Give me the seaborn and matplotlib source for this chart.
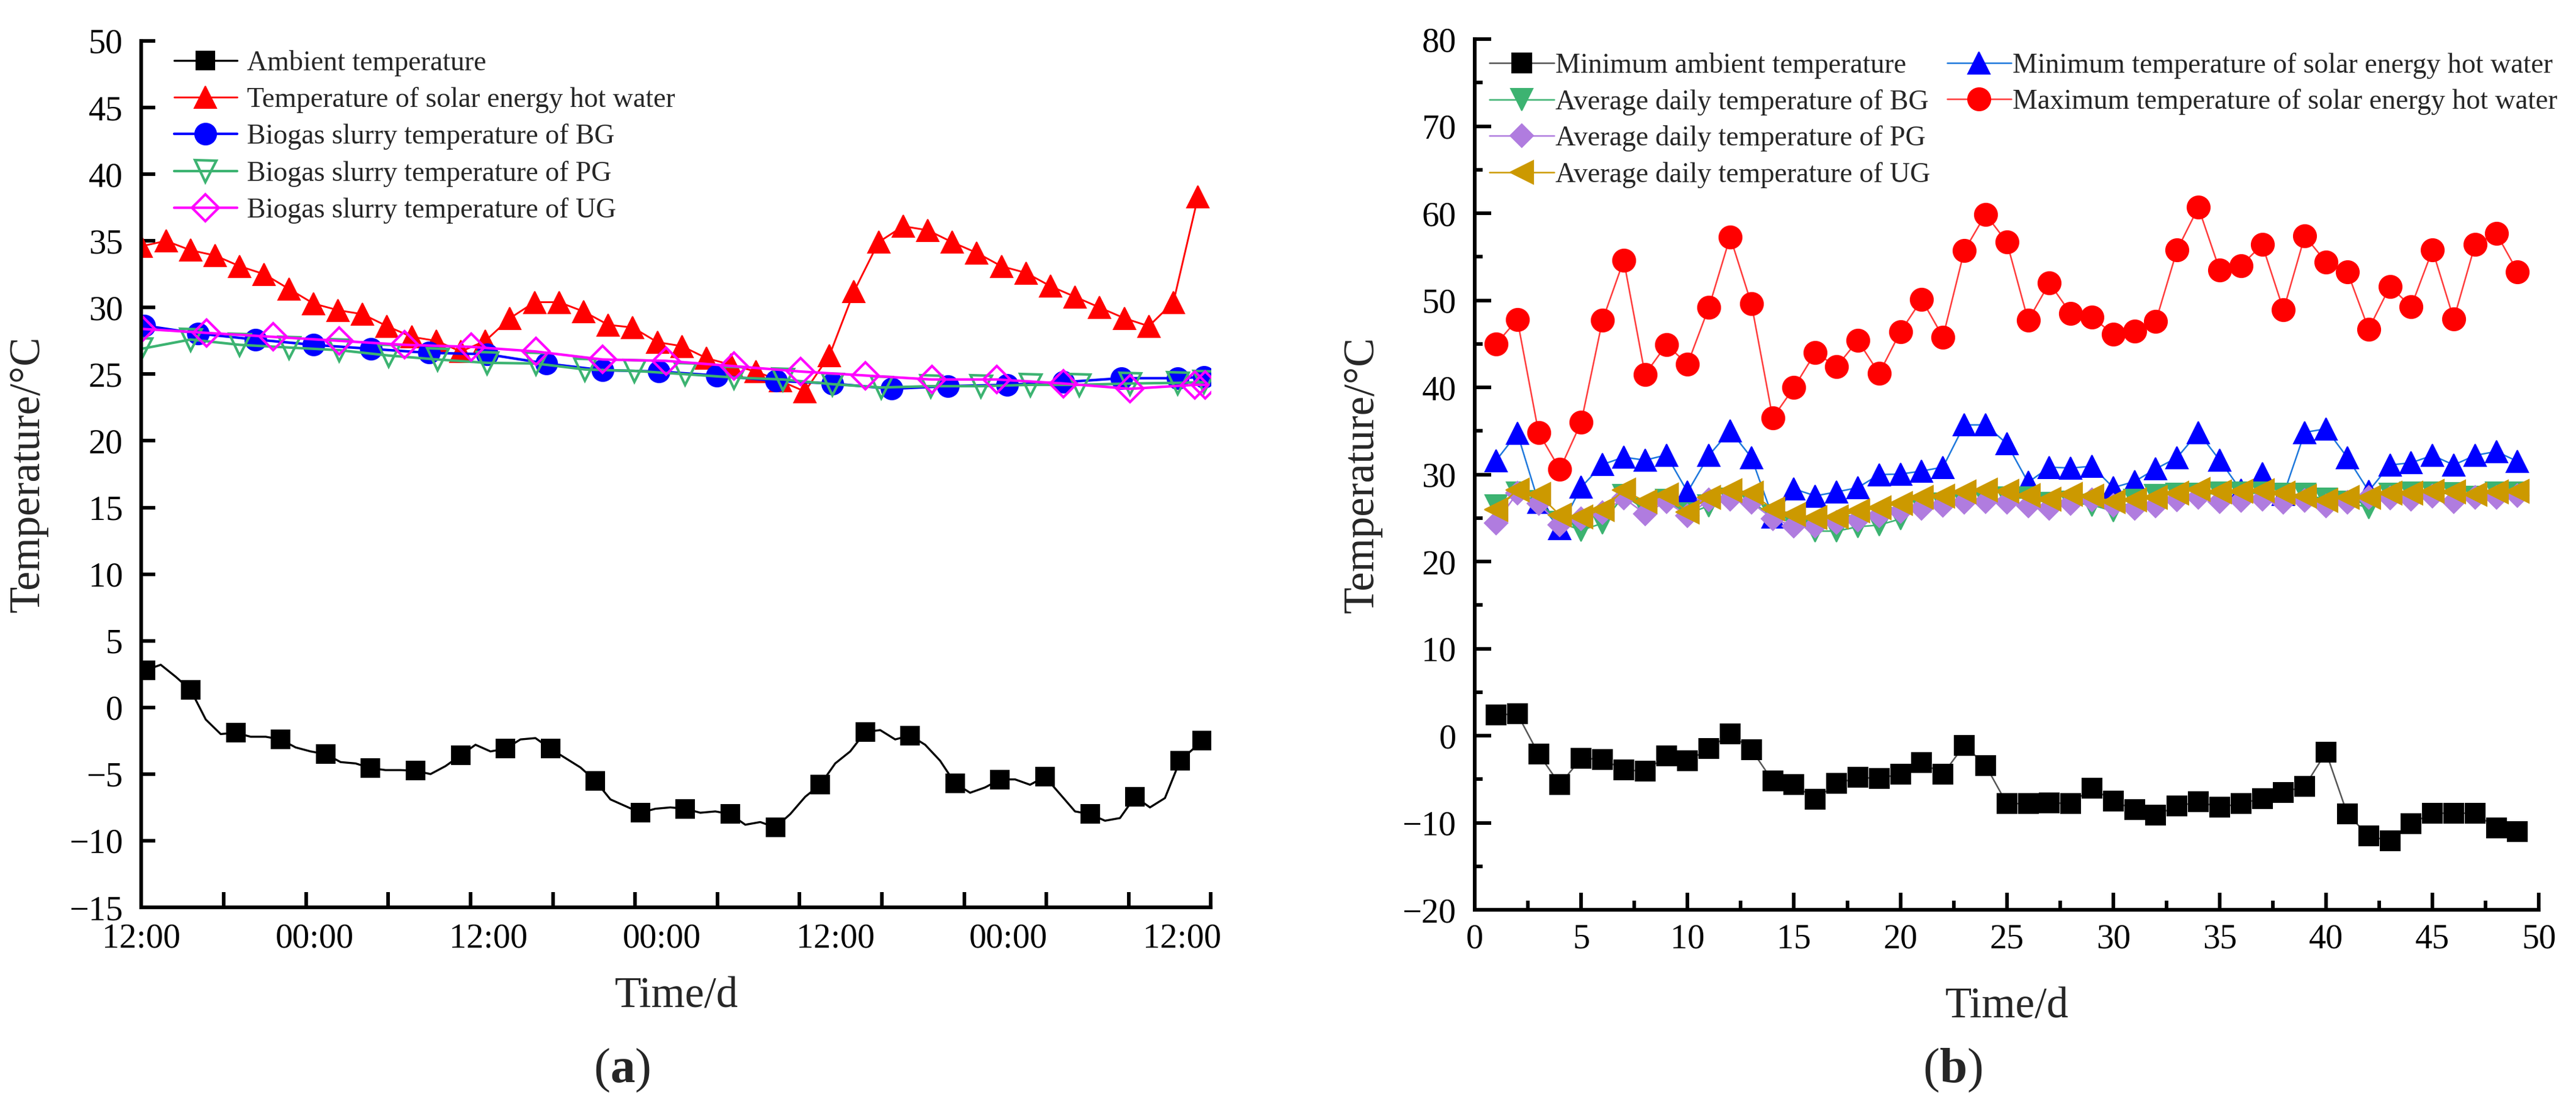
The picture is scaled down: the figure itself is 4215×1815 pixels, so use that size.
import numpy as np
import matplotlib
matplotlib.use('Agg')
import matplotlib.pyplot as plt
from matplotlib.lines import Line2D
from matplotlib.ticker import MultipleLocator, FixedLocator
import seaborn as sns

# ---------------- panel (a): hours counted from 12:00 of the first day
amb_hours = np.append(0.3 + np.arange(70) * 1.037, 73.4)
amb_temp = [2.8, 3.2, 2.3, 1.3, -0.9, -2.0, -1.9, -2.2, -2.2, -2.4,
            -3.0, -3.3, -3.5, -4.1, -4.2, -4.55, -4.7, -4.7, -4.75, -5.0,
            -4.4, -3.6, -2.8, -3.3, -3.1, -2.4, -2.3, -3.1, -3.8, -4.5,
            -5.5, -6.9, -7.4, -7.9, -7.6, -7.5, -7.6, -7.9, -7.8, -8.0,
            -8.8, -8.6, -9.0, -8.0, -6.7, -5.8, -4.2, -3.3, -1.85, -1.7,
            -2.4, -2.1, -2.8, -4.0, -5.7, -6.4, -6.0, -5.4, -5.4, -5.8,
            -5.2, -6.5, -7.8, -8.0, -8.5, -8.3, -6.7, -7.5, -6.8, -4.0,
            -2.5]

solar_hours = np.arange(44) * 1.7
solar_temp = [34.6, 35.0, 34.3, 33.9, 33.1, 32.5, 31.4, 30.3, 29.8, 29.5,
              28.6, 27.8, 27.5, 26.7, 27.5, 29.2, 30.4, 30.4, 29.7, 28.7,
              28.5, 27.4, 27.1, 26.2, 25.7, 25.2, 24.5, 23.7, 26.4, 31.2,
              34.9, 36.1, 35.8, 34.9, 34.1, 33.1, 32.6, 31.6, 30.8, 30.0,
              29.2, 28.6, 30.4, 38.3]

bg_hours = [0.2, 3.9, 7.9, 11.9, 15.9, 19.9, 23.9, 28.0, 31.9, 35.8,
            39.8, 43.9, 47.8, 51.9, 55.8, 59.9, 63.8, 67.8, 71.7, 73.5]
bg_temp = [28.65, 28.05, 27.6, 27.2, 26.9, 26.6, 26.5, 25.8, 25.3, 25.2,
           24.9, 24.5, 24.3, 23.9, 24.1, 24.2, 24.4, 24.7, 24.7, 24.8]

pg_hours = [0.0, 3.4, 6.8, 10.2, 13.7, 17.1, 20.5, 23.9, 27.3, 30.7, 34.1,
            37.6, 41.0, 44.4, 47.8, 51.2, 54.6, 58.1, 61.5, 64.9, 68.4, 71.7, 73.5]
pg_temp = [26.9, 27.6, 27.2, 27.0, 26.8, 26.4, 26.1, 25.85, 25.8, 25.35, 25.25,
           25.0, 24.75, 24.6, 24.25, 24.0, 24.1, 24.1, 24.2, 24.2, 24.3, 24.35, 24.4]

ug_hours = [0.0, 4.5, 9.1, 13.7, 18.2, 22.8, 27.3, 31.9, 36.3,
            41.0, 45.6, 50.1, 54.7, 59.2, 63.8, 68.4, 72.9, 73.6]
ug_temp = [28.4, 28.1, 27.8, 27.5, 27.2, 27.05, 26.7, 26.1, 26.0,
           25.6, 25.2, 24.9, 24.6, 24.6, 24.3, 23.9, 24.2, 24.2]

clock_pos = [0, 12, 24, 36, 48, 60, 72]
clock_labels = ['12:00', '00:00', '12:00', '00:00', '12:00', '00:00', '12:00']

# ---------------- panel (b): daily values
days = np.arange(1, 50)
min_ambient = [2.4, 2.5, -2.1, -5.6, -2.6, -2.7, -3.9, -4.1, -2.3, -2.9,
               -1.5, 0.2, -1.6, -5.2, -5.6, -7.3, -5.5, -4.8, -4.9, -4.4,
               -3.1, -4.4, -1.1, -3.4, -7.8, -7.8, -7.7, -7.8, -6.0, -7.5,
               -8.5, -9.1, -8.1, -7.6, -8.2, -7.8, -7.2, -6.5, -5.8, -1.9,
               -9.0, -11.5, -12.1, -10.1, -8.9, -8.9, -8.9, -10.6, -11.0]
avg_bg = [26.4, 27.85, 26.9, 24.5, 23.6, 24.4, 27.6, 26.0, 27.05, 25.5,
          26.4, 27.2, 26.8, 25.3, 24.4, 23.5, 23.5, 24.0, 24.2, 24.9,
          26.3, 26.6, 26.8, 27.0, 27.3, 27.3, 26.7, 26.8, 26.5, 25.8,
          27.0, 27.6, 27.75, 27.7, 27.85, 27.85, 27.85, 27.7, 27.7, 27.15,
          26.8, 26.2, 27.7, 27.85, 27.85, 27.8, 27.4, 27.85, 27.85]
avg_pg = [24.45, 27.9, 26.65, 24.2, 24.9, 25.6, 27.3, 25.5, 26.9, 25.25,
          27.1, 27.2, 26.8, 24.9, 24.1, 24.1, 24.5, 24.8, 25.3, 25.75,
          26.1, 26.5, 26.8, 26.9, 26.85, 26.4, 26.1, 26.65, 27.1, 26.5,
          26.1, 26.4, 27.1, 27.35, 26.9, 27.0, 27.2, 26.8, 27.0, 26.4,
          26.8, 27.35, 27.3, 27.2, 27.5, 26.9, 27.4, 27.4, 27.6]
avg_ug = [25.95, 28.25, 27.7, 25.35, 25.1, 26.0, 28.2, 26.9, 27.65, 25.7,
          27.4, 28.15, 27.85, 26.05, 25.4, 25.05, 25.1, 25.8, 26.2, 26.7,
          27.4, 27.5, 28.0, 28.2, 28.1, 27.6, 27.2, 27.7, 27.5, 26.9,
          27.1, 27.4, 27.9, 28.3, 28.0, 28.1, 28.15, 27.9, 27.5, 27.0,
          27.4, 27.4, 27.9, 27.9, 28.1, 28.0, 27.7, 28.0, 28.1]
min_solar = [31.6, 34.75, 26.8, 23.8, 28.55, 31.15, 32.0, 31.65, 32.25, 28.0,
             32.2, 35.05, 31.95, 25.1, 28.35, 27.55, 28.0, 28.5, 30.0, 30.05,
             30.4, 30.85, 35.7, 35.7, 33.55, 29.1, 30.85, 30.75, 30.95, 28.5,
             29.2, 30.65, 31.95, 34.85, 31.65, 28.2, 30.15, 27.7, 34.85, 35.25,
             31.95, 28.1, 31.1, 31.35, 32.2, 31.1, 32.2, 32.65, 31.5]
max_solar = [45.0, 47.8, 34.8, 30.6, 36.0, 47.7, 54.6, 41.5, 44.9, 42.7,
             49.2, 57.3, 49.6, 36.5, 40.0, 44.0, 42.4, 45.4, 41.6, 46.4,
             50.1, 45.8, 55.7, 59.9, 56.7, 47.7, 52.0, 48.5, 48.1, 46.1,
             46.5, 47.6, 55.8, 60.7, 53.5, 54.0, 56.4, 48.9, 57.4, 54.4,
             53.3, 46.7, 51.6, 49.3, 55.8, 47.85, 56.4, 57.7, 53.3]

# ---------------- style
sns.set_theme(style='ticks')
plt.rcParams['font.family'] = ['Liberation Serif', 'DejaVu Serif']
plt.rcParams['mathtext.fontset'] = 'custom'
plt.rcParams['mathtext.rm'] = 'Liberation Serif'
plt.rcParams['mathtext.bf'] = 'Liberation Serif:bold'
plt.rcParams['axes.unicode_minus'] = True

fig = plt.figure(figsize=(14.05, 6.05), dpi=300)
ax_a = fig.add_axes([0.0549, 0.1818, 0.4152, 0.7813])
ax_b = fig.add_axes([0.5725, 0.1796, 0.4131, 0.7850])


def style_axes(ax):
    for side in ('top', 'right'):
        ax.spines[side].set_visible(False)
    for side in ('left', 'bottom'):
        ax.spines[side].set_linewidth(1.45)
        ax.spines[side].set_color('black')
    ax.tick_params(which='both', direction='in', color='black', width=1.4,
                   labelsize=13.5, labelcolor='black')
    ax.grid(False)
    ax.set_facecolor('white')


# ---------------- panel (a)
sns.lineplot(x=amb_hours, y=amb_temp, ax=ax_a, color='black', lw=0.8,
             marker='s', markersize=7.4, markerfacecolor='black',
             markeredgecolor='black', markeredgewidth=0.5,
             markevery=list(range(0, 70, 3)) + [70], label='Ambient temperature')
sns.lineplot(x=solar_hours, y=solar_temp, ax=ax_a, color='#FF0000', lw=0.7,
             marker='^', markersize=8.6, markerfacecolor='#FF0000',
             markeredgecolor='#FF0000', markeredgewidth=0.5,
             label='Temperature of solar energy hot water')
sns.lineplot(x=bg_hours, y=bg_temp, ax=ax_a, color='#0000FF', lw=1.0,
             marker='o', markersize=8.4, markerfacecolor='#0000FF',
             markeredgecolor='#0000FF', markeredgewidth=0.5,
             label='Biogas slurry temperature of BG')
sns.lineplot(x=pg_hours, y=pg_temp, ax=ax_a, color='#3CB371', lw=1.0,
             marker='v', markersize=8.4, markerfacecolor='none',
             markeredgecolor='#3CB371', markeredgewidth=1.0,
             label='Biogas slurry temperature of PG')
sns.lineplot(x=ug_hours, y=ug_temp, ax=ax_a, color='#FF00FF', lw=1.0,
             marker='D', markersize=7.3, markerfacecolor='none',
             markeredgecolor='#FF00FF', markeredgewidth=1.0,
             label='Biogas slurry temperature of UG')

style_axes(ax_a)
ax_a.set_xlim(0, 74)
ax_a.set_ylim(-15, 50)
ax_a.yaxis.set_major_locator(MultipleLocator(5))
ax_a.tick_params(axis='y', which='major', length=5.5, pad=7.3)
ax_a.set_xticks(clock_pos)
ax_a.set_xticklabels(clock_labels)
ax_a.xaxis.set_minor_locator(FixedLocator(np.arange(14) * 74 / 13))
ax_a.tick_params(axis='x', which='major', length=0, pad=6)
ax_a.tick_params(axis='x', which='minor', length=6)
ax_a.set_xlabel('Time/d', fontsize=17)
ax_a.set_ylabel('Temperature/°C', fontsize=17)
ax_a.xaxis.set_label_coords(0.5, -0.08)
ax_a.yaxis.set_label_coords(-0.087, 0.5)
ax_a.legend(loc='upper left', bbox_to_anchor=(0.0305, 0.9894), borderaxespad=0,
            borderpad=0, frameon=False, fontsize=11, handlelength=2.25,
            handletextpad=0.35, labelspacing=0.38)

# ---------------- panel (b)
sns.lineplot(x=days, y=min_solar, ax=ax_b, color='#1E78DC', lw=0.6,
             marker='^', markersize=8.6, markerfacecolor='#0000FF',
             markeredgecolor='#0000FF', markeredgewidth=0.5,
             label='Minimum temperature of solar energy hot water')
sns.lineplot(x=days, y=max_solar, ax=ax_b, color='#FF3B3B', lw=0.6,
             marker='o', markersize=8.9, markerfacecolor='#FF0000',
             markeredgecolor='#FF0000', markeredgewidth=0.5,
             label='Maximum temperature of solar energy hot water')
sns.lineplot(x=days, y=min_ambient, ax=ax_b, color='#555555', lw=0.6,
             marker='s', markersize=7.7, markerfacecolor='black',
             markeredgecolor='black', markeredgewidth=0.5,
             label='Minimum ambient temperature')
sns.lineplot(x=days, y=avg_bg, ax=ax_b, color='#3CB371', lw=0.6,
             marker='v', markersize=8.6, markerfacecolor='#3CB371',
             markeredgecolor='#3CB371', markeredgewidth=0.5,
             label='Average daily temperature of BG')
sns.lineplot(x=days, y=avg_pg, ax=ax_b, color='#B07CDF', lw=0.6,
             marker='D', markersize=6.5, markerfacecolor='#B07CDF',
             markeredgecolor='#B07CDF', markeredgewidth=0.5,
             label='Average daily temperature of PG')
sns.lineplot(x=days, y=avg_ug, ax=ax_b, color='#CC9900', lw=0.6,
             marker='<', markersize=9.0, markerfacecolor='#CC9900',
             markeredgecolor='#CC9900', markeredgewidth=0.5,
             label='Average daily temperature of UG')

style_axes(ax_b)
ax_b.set_xlim(0, 50)
ax_b.set_ylim(-20, 80)
ax_b.xaxis.set_major_locator(MultipleLocator(5))
ax_b.xaxis.set_minor_locator(MultipleLocator(2.5))
ax_b.yaxis.set_major_locator(MultipleLocator(10))
ax_b.yaxis.set_minor_locator(MultipleLocator(5))
ax_b.tick_params(axis='x', which='major', length=6.7, pad=5.5)
ax_b.tick_params(axis='x', which='minor', length=3.5)
ax_b.tick_params(axis='y', which='major', length=6.5, pad=7.3)
ax_b.tick_params(axis='y', which='minor', length=3.2)
ax_b.set_xlabel('Time/d', fontsize=17)
ax_b.set_ylabel('Temperature/°C', fontsize=17)
ax_b.xaxis.set_label_coords(0.5, -0.089)
ax_b.yaxis.set_label_coords(-0.087, 0.5)

handles, labels = ax_b.get_legend_handles_labels()
by_label = dict(zip(labels, handles))
order = ['Minimum ambient temperature', 'Average daily temperature of BG',
         'Average daily temperature of PG', 'Average daily temperature of UG',
         'Minimum temperature of solar energy hot water',
         'Maximum temperature of solar energy hot water']
blank = Line2D([], [], linestyle='none')
leg_handles = [by_label[k] for k in order] + [blank, blank]
leg_labels = order + ['', '']
ax_b.legend(leg_handles, leg_labels, loc='upper left', ncol=2,
            bbox_to_anchor=(0.0138, 0.9846), borderaxespad=0, borderpad=0,
            frameon=False, fontsize=11, handlelength=2.3, handletextpad=0.05,
            columnspacing=0.6, labelspacing=0.36)

# panel captions
fig.text(0.2415, 0.0347, r'($\mathbf{a}$)', ha='center', va='center', fontsize=19.5)
fig.text(0.758, 0.0347, r'($\mathbf{b}$)', ha='center', va='center', fontsize=19.5)

fig.savefig('out.png', dpi=300, facecolor='white')
